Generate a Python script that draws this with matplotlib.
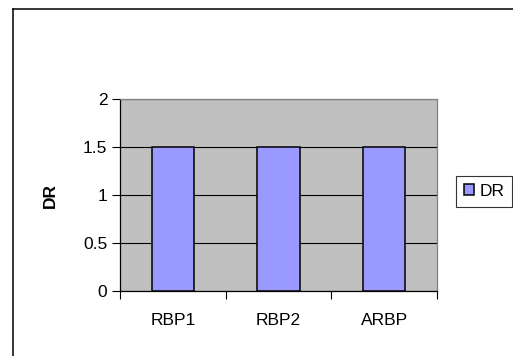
import matplotlib.pyplot as plt
from matplotlib.lines import Line2D
import numpy as np

# dados
categorias = ["RBP1", "RBP2", "ARBP"]
valores_dr = [1.5, 1.5, 1.5]
serie = "DR"

plt.rcParams['font.family'] = ['Liberation Sans', 'DejaVu Sans']
fs = 12.5

W, H = 513, 356
fig = plt.figure(figsize=(W / 100, H / 100), dpi=100)

# moldura externa: só a borda de cima e a da esquerda aparecem
topo = 1 - 8.5 / H
esq = 12.5 / W
fig.add_artist(Line2D([esq, 1.0], [topo, topo], transform=fig.transFigure,
                      color="black", linewidth=1.1))
fig.add_artist(Line2D([esq, esq], [0.0, topo], transform=fig.transFigure,
                      color="black", linewidth=1.1))

ax = fig.add_axes([120 / W, 65 / H, 317 / W, 192 / H])
ax.set_facecolor("#C0C0C0")

x = np.arange(len(categorias))
ax.bar(x, valores_dr, width=0.4, color="#9999FF", edgecolor="black",
       linewidth=1.1, label=serie, zorder=3)

ax.set_xlim(-0.5, len(categorias) - 0.5)
ax.set_ylim(0, 2)
ax.set_yticks([0, 0.5, 1, 1.5, 2])
ax.set_yticklabels(["0", "0.5", "1", "1.5", "2"], fontsize=fs)
ax.set_xticks(x)
ax.set_xticklabels(categorias, fontsize=fs)
ax.set_xticks(np.arange(-0.5, len(categorias)), minor=True)
ax.tick_params(axis="x", which="major", length=0, pad=16)
ax.tick_params(axis="x", which="minor", length=6, width=0.8)
ax.tick_params(axis="y", length=6, width=0.8, pad=3)

ax.grid(axis="y", color="black", linewidth=0.8, zorder=1)
ax.set_axisbelow(True)

ax.spines["left"].set_color("black")
ax.spines["bottom"].set_color("black")
ax.spines["top"].set_color("#808080")
ax.spines["right"].set_color("#808080")
for s in ax.spines.values():
    s.set_linewidth(0.9)

ax.set_ylabel("DR", fontsize=fs, fontweight="bold", labelpad=18)

leg = fig.legend(loc="upper left", bbox_to_anchor=(456 / W, 1 - 176 / H),
                 fontsize=fs, frameon=True, fancybox=False,
                 handlelength=0.6, handleheight=0.6, handletextpad=0.3,
                 borderpad=0.45, borderaxespad=0)
leg.get_frame().set_edgecolor("black")
leg.get_frame().set_linewidth(0.8)

fig.savefig("out.png", dpi=100)
